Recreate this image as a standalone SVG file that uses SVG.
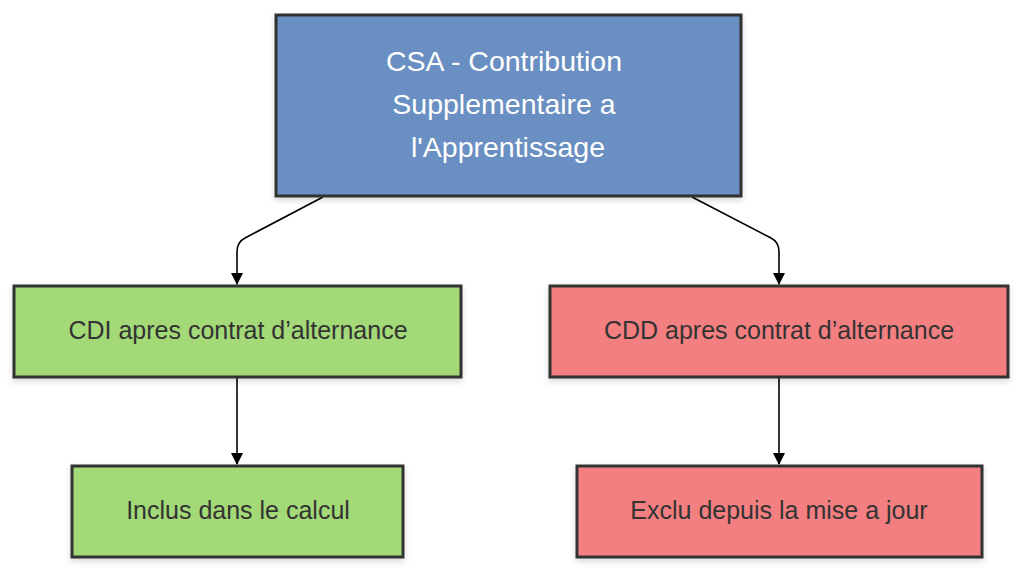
<svg xmlns="http://www.w3.org/2000/svg" width="1024" height="573" viewBox="0 0 1024 573">
<style>
.box{stroke:#333;stroke-width:3}
.blue{fill:#6a8fc2}
.green{fill:#a3d977}
.red{fill:#f47f80}
.t{font-family:"Liberation Sans",Arial,sans-serif;text-anchor:middle}
.tw{fill:#ffffff;font-size:28.5px}
.td{fill:#333333;font-size:25px}
.edge{fill:none;stroke:#000;stroke-width:1.6}
</style>
<defs>
<filter id="sh" x="-10%" y="-10%" width="120%" height="130%">
<feDropShadow dx="0" dy="3" stdDeviation="3" flood-color="#000" flood-opacity="0.15"/>
</filter>
<marker id="arr" viewBox="0 0 12 12" refX="11" refY="6" markerWidth="12" markerHeight="12" markerUnits="userSpaceOnUse" orient="auto">
<path d="M0,0 L12,6 L0,12 z" fill="#000"/>
</marker>
</defs>
<g id="connectors">
<path class="edge" d="M323,197 L245,238 Q237,242 237,252 L237,284" marker-end="url(#arr)"/>
<path class="edge" d="M692,197 L771,238 Q779,242 779,252 L779,284" marker-end="url(#arr)"/>
<path class="edge" d="M237,378 L237,464" marker-end="url(#arr)"/>
<path class="edge" d="M779,378 L779,464" marker-end="url(#arr)"/>
</g>
<g id="csa">
<rect class="box blue" x="276" y="15" width="465" height="181" filter="url(#sh)"/>
<text class="t tw" x="504" y="71">CSA - Contribution</text>
<text class="t tw" x="504" y="114">Supplementaire a</text>
<text class="t tw" x="508" y="157">l'Apprentissage</text>
</g>
<g id="cdi">
<rect class="box green" x="14" y="286" width="447" height="91" filter="url(#sh)"/>
<text class="t td" x="238" y="339">CDI apres contrat d’alternance</text>
</g>
<g id="inclus">
<rect class="box green" x="72" y="466" width="331" height="91" filter="url(#sh)"/>
<text class="t td" x="238" y="519">Inclus dans le calcul</text>
</g>
<g id="cdd">
<rect class="box red" x="550" y="286" width="458" height="91" filter="url(#sh)"/>
<text class="t td" x="779" y="339">CDD apres contrat d’alternance</text>
</g>
<g id="exclu">
<rect class="box red" x="577" y="466" width="405" height="91" filter="url(#sh)"/>
<text class="t td" x="779" y="519">Exclu depuis la mise a jour</text>
</g>
</svg>
